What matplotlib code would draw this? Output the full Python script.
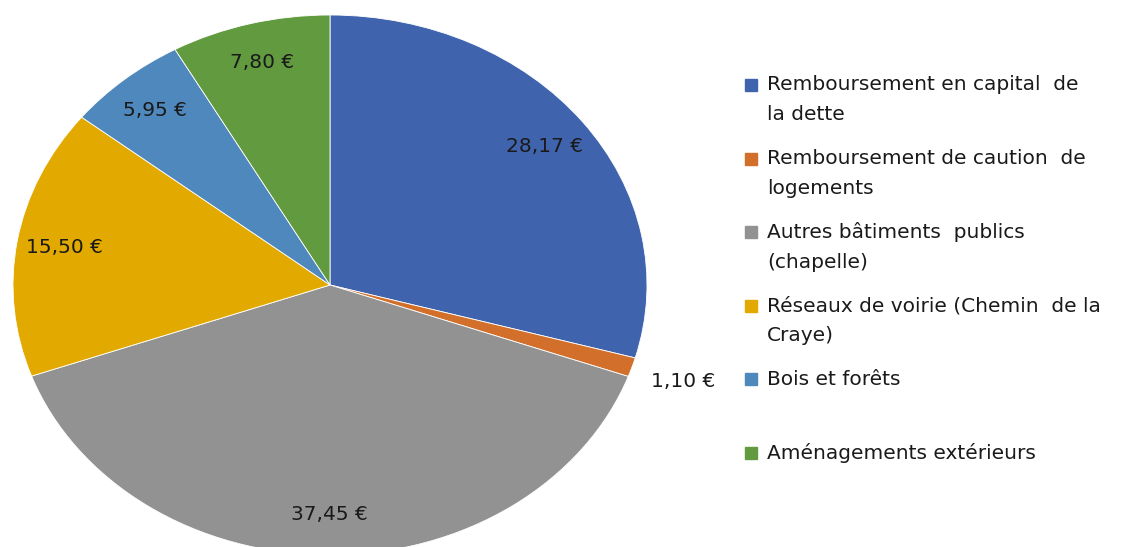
import numpy as np
import matplotlib.pyplot as plt
from matplotlib.patches import Rectangle

# --- Données ---
categories = [
    "Remboursement en capital  de\nla dette",
    "Remboursement de caution  de\nlogements",
    "Autres bâtiments  publics\n(chapelle)",
    "Réseaux de voirie (Chemin  de la\nCraye)",
    "Bois et forêts",
    "Aménagements extérieurs",
]
values = [28.17, 1.10, 37.45, 15.50, 5.95, 7.80]
value_labels = ["28,17 €", "1,10 €", "37,45 €", "15,50 €", "5,95 €", "7,80 €"]
colors = ["#3F64AD", "#D2702B", "#929292", "#E2AA00", "#4F88BC", "#629A40"]

W, H = 1138, 547
fig = plt.figure(figsize=(W / 100, H / 100), dpi=100)
plt.rcParams['font.family'] = ['DejaVu Sans']

# camembert (légèrement étiré comme l'original)
ax = fig.add_axes([13 / W, (H - 555) / H, 634 / W, 540 / H])
wedges, _ = ax.pie(values, colors=colors, startangle=90, counterclock=False,
                   radius=1, wedgeprops=dict(edgecolor='white', linewidth=0.6))
ax.set_aspect('auto')
ax.set_xlim(-1, 1)
ax.set_ylim(-1, 1)

# étiquettes de valeurs
for w, lab in zip(wedges, value_labels):
    th = np.deg2rad((w.theta1 + w.theta2) / 2)
    r = 1.17 if (w.theta2 - w.theta1) < 5 else 0.85
    ax.text(r * np.cos(th), r * np.sin(th), lab, ha='center', va='center',
            fontsize=14.5, color='#1a1a1a')

# légende faite à la main (carré aligné sur la première ligne)
y0, step, line_h = 85, 73.6, 30
for i, (cat, col) in enumerate(zip(categories, colors)):
    yc = y0 + i * step
    fig.patches.append(Rectangle((745 / W, 1 - (yc + 6) / H), 12 / W, 12 / H,
                                 transform=fig.transFigure, color=col))
    for j, line in enumerate(cat.split("\n")):
        fig.text(767 / W, 1 - (yc + j * line_h) / H, line, ha='left', va='center',
                 fontsize=14.5, color='#1a1a1a')

fig.savefig('out.png', dpi=100)
